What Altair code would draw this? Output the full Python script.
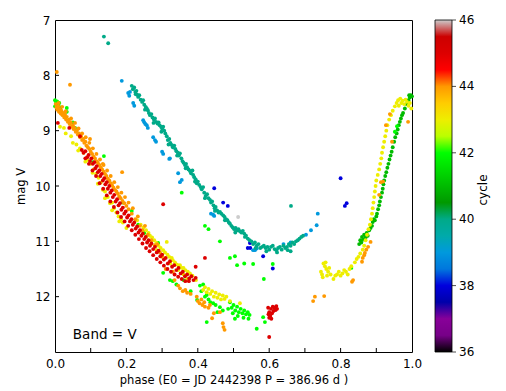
import altair as alt
import pandas as pd

# (phase, mag) points per cycle
cycle38 = [(0.446,10.04),(0.471,10.30),(0.484,10.36),(0.547,11.12),(0.540,11.12),(0.546,11.03),
           (0.583,11.27),(0.610,11.49),(0.800,9.86),(0.817,10.31),(0.812,10.36)]

cycle39 = [(0.187,8.10),(0.205,8.32),(0.208,8.37),(0.210,8.30),(0.219,8.50),(0.222,8.55),(0.247,8.81),
           (0.250,8.85),(0.253,8.88),(0.257,8.90),(0.260,8.95),(0.275,9.12),(0.280,9.17),(0.283,9.20),
           (0.300,9.38),(0.303,9.42),(0.320,9.51),(0.322,9.50),(0.345,9.77),(0.350,9.93),(0.355,9.89),
           (0.437,10.50),(0.443,10.52),(0.446,10.54),(0.555,11.16),(0.560,11.16),(0.565,11.13),
           (0.640,11.05),(0.660,11.02),(0.703,10.88),(0.717,10.80),(0.733,10.71),(0.736,10.50)]

cycle40 = [(0.137,7.30),(0.149,7.42),
           (0.215,8.19),(0.218,8.25),(0.222,8.22),(0.225,8.30),(0.228,8.28),(0.230,8.35),(0.233,8.39),
           (0.236,8.36),(0.240,8.44),(0.244,8.48),(0.247,8.45),(0.250,8.53),(0.254,8.57),(0.257,8.60),
           (0.260,8.63),(0.263,8.68),(0.266,8.72),(0.270,8.70),(0.273,8.76),(0.277,8.80),(0.280,8.78),
           (0.283,8.84),(0.287,8.87),(0.290,8.85),(0.293,8.90),(0.297,8.93),(0.300,8.96),(0.303,8.93),
           (0.306,9.00),(0.309,9.05),(0.313,9.10),(0.316,9.17),(0.320,9.15),(0.323,9.22),(0.327,9.26),
           (0.330,9.30),(0.334,9.27),(0.337,9.33),(0.340,9.37),(0.344,9.40),(0.347,9.45),(0.350,9.41),
           (0.354,9.50),(0.357,9.55),(0.360,9.58),(0.364,9.62),(0.367,9.60),(0.370,9.66),(0.374,9.70),
           (0.378,9.73),(0.381,9.77),(0.385,9.72),(0.387,9.80),(0.390,9.84),(0.394,9.88),(0.397,9.95),
           (0.400,9.92),(0.404,9.98),(0.408,10.02),(0.411,10.06),(0.415,10.02),(0.418,10.12),(0.422,10.18),
           (0.426,10.15),(0.430,10.22),(0.434,10.25),(0.437,10.30),(0.440,10.28),(0.444,10.35),(0.447,10.40),
           (0.450,10.38),(0.454,10.44),(0.458,10.48),(0.462,10.47),(0.466,10.50),(0.471,10.53),(0.475,10.56),
           (0.479,10.60),(0.483,10.62),(0.487,10.66),(0.490,10.68),(0.494,10.72),(0.498,10.75),(0.502,10.78),
           (0.506,10.76),(0.510,10.80),(0.514,10.78),(0.518,10.82),(0.522,10.84),(0.526,10.81),(0.530,10.86),
           (0.535,10.90),(0.540,10.95),(0.545,10.98),(0.550,11.00),(0.555,11.05),(0.560,11.02),(0.565,11.08),
           (0.570,11.05),(0.575,11.12),(0.580,11.10),(0.585,11.08),(0.590,11.12),(0.595,11.10),(0.600,11.15),
           (0.605,11.10),(0.610,11.08),(0.615,11.14),(0.620,11.16),(0.625,11.12),(0.630,11.10),(0.635,11.15),
           (0.640,11.08),(0.645,11.12),(0.650,11.10),(0.655,11.05),(0.660,11.08),(0.665,11.02),(0.670,11.05),
           (0.675,11.00),(0.680,10.98),(0.685,10.95),(0.690,10.92),(0.695,10.90),(0.661,10.36),(0.660,11.18),
           (0.226,8.34),(0.252,8.62),(0.276,8.86),(0.298,9.02),(0.318,9.25),(0.342,9.45),(0.366,9.68),
           (0.392,9.92),(0.420,10.22),(0.448,10.45),(0.476,10.62),(0.505,10.84),(0.532,10.92),(0.562,11.12),
           (0.592,11.18),(0.622,11.20),(0.652,11.16)]

cycle41 = [(0.852,11.05),(0.855,10.98),(0.858,11.02),(0.860,10.92),(0.863,10.97),(0.866,10.88),(0.870,10.93),
           (0.873,10.85),(0.876,10.90),(0.880,10.80),(0.884,10.76),(0.888,10.72),(0.890,10.65),(0.893,10.60),
           (0.896,10.62),(0.900,10.55),(0.902,10.50),(0.905,10.42),(0.908,10.35),(0.910,10.28),(0.913,10.20),
           (0.916,10.12),(0.918,10.05),(0.920,9.97),(0.922,9.90),(0.925,9.82),(0.928,9.75),(0.931,9.67),
           (0.934,9.60),(0.937,9.52),(0.940,9.45),(0.943,9.38),(0.946,9.30),(0.950,9.20),(0.953,9.12),
           (0.957,9.05),(0.960,8.98),(0.963,8.90),(0.966,8.84),(0.969,8.78),(0.972,8.72),(0.975,8.68),
           (0.980,8.60),(0.985,8.52),(0.990,8.45),(0.994,8.40),(0.997,8.36),(1.000,8.38),(0.992,8.36)]

cycle42 = [(0.000,8.45),(0.003,8.50),(0.006,8.47),(0.009,8.55),(0.012,8.50),(0.000,8.56),(0.015,8.58),
           (0.033,8.59),(0.033,8.66),(0.050,8.85),(0.056,8.95),(0.060,9.00),(0.106,9.57),(0.137,9.46),
           (0.190,10.30),(0.215,10.45),(0.233,10.70),(0.250,10.85),(0.289,11.03),(0.303,11.57),(0.322,11.70),
           (0.355,10.12),(0.330,11.72),(0.340,11.78),(0.360,11.70),(0.380,11.90),(0.398,12.06),(0.406,11.80),
           (0.410,11.90),(0.415,11.78),(0.420,12.00),(0.425,11.97),(0.430,12.05),(0.435,12.10),(0.443,12.12),
           (0.450,12.15),(0.462,12.19),(0.425,12.46),(0.420,10.72),(0.430,10.78),(0.462,11.00),(0.490,11.30),
           (0.504,11.27),(0.510,11.43),(0.530,11.40),(0.555,11.41),(0.585,11.68),(0.610,11.41),(0.490,12.10),
           (0.495,12.20),(0.500,12.15),(0.505,12.25),(0.510,12.18),(0.515,12.28),(0.520,12.22),(0.525,12.30),
           (0.530,12.25),(0.535,12.32),(0.540,12.28),(0.545,12.33),(0.504,12.40),(0.565,12.58),(0.588,12.46),
           (0.583,12.37),(0.830,11.48),(0.952,9.02),(0.958,8.92),
           (0.485,12.22),(0.498,12.30),(0.512,12.35),(0.528,12.38),(0.542,12.40),(0.470,12.25),(0.455,12.28)]

cycle43 = [(0.014,8.93),(0.025,8.95),(0.045,9.10),(0.060,9.25),(0.070,9.32),(0.080,9.40),(0.090,9.53),
           (0.100,9.60),(0.108,9.70),(0.115,9.78),(0.122,9.85),(0.128,9.94),(0.134,10.07),(0.140,10.10),
           (0.148,10.20),(0.154,10.31),(0.160,10.30),(0.165,10.40),(0.172,10.48),(0.178,10.55),(0.185,10.60),
           (0.190,10.66),(0.230,10.62),(0.240,10.70),(0.248,10.75),(0.255,10.80),(0.262,10.85),(0.266,10.90),
           (0.272,10.93),(0.278,10.98),(0.284,11.03),(0.290,11.08),(0.296,11.12),(0.303,11.16),(0.308,11.20),
           (0.313,11.01),(0.315,11.24),(0.320,11.28),(0.327,11.30),(0.330,11.34),(0.336,11.38),(0.342,11.42),
           (0.348,11.45),(0.355,11.48),(0.360,11.48),(0.365,11.52),(0.372,11.55),(0.378,11.58),(0.350,11.43),
           (0.360,11.60),(0.370,11.68),(0.415,11.88),(0.420,11.83),(0.425,11.92),(0.430,11.86),(0.435,11.95),
           (0.440,11.90),(0.445,12.00),(0.450,11.93),(0.455,12.02),(0.460,11.96),(0.465,12.05),(0.470,11.98),
           (0.475,12.04),(0.480,12.00),(0.490,12.08),(0.518,12.12),
           (0.030,9.05),(0.050,9.22),(0.065,9.36),(0.085,9.56),(0.105,9.76),(0.120,9.96),(0.140,10.22),
           (0.160,10.44),(0.180,10.64),(0.200,10.76),(0.255,10.92),(0.270,11.05),(0.285,11.16),(0.300,11.27),
           (0.323,11.40),(0.345,11.52),(0.385,11.62),(0.395,11.70),
           (0.745,11.55),(0.748,11.60),(0.750,11.65),(0.752,11.40),(0.756,11.45),(0.758,11.38),(0.760,11.50),
           (0.762,11.62),(0.765,11.55),(0.768,11.48),(0.772,11.60),(0.780,11.68),(0.785,11.62),(0.790,11.60),
           (0.795,11.55),(0.800,11.62),(0.805,11.58),(0.810,11.52),(0.815,11.55),(0.820,11.60),(0.825,11.50),
           (0.830,11.45),(0.840,11.38),(0.845,11.32),(0.850,11.28),(0.855,11.22),(0.862,11.15),(0.866,11.08),
           (0.870,10.98),(0.874,10.88),(0.878,10.78),(0.882,10.70),(0.885,10.60),(0.888,10.50),(0.890,10.40),
           (0.892,10.30),(0.894,10.20),(0.896,10.10),(0.898,10.00),(0.900,9.90),(0.904,9.80),(0.908,9.70),
           (0.911,9.60),(0.914,9.50),(0.916,9.40),(0.919,9.30),(0.922,9.20),(0.925,9.10),(0.928,9.00),
           (0.931,8.90),(0.936,8.80),(0.941,8.72),(0.946,8.64),(0.952,8.56),(0.957,8.50),(0.961,8.45),
           (0.963,8.55),(0.967,8.42),(0.970,8.50),(0.974,8.46),(0.978,8.52),(0.982,8.44),(0.986,8.48),
           (0.990,8.55),(0.994,8.50),(0.998,8.60)]

cycle44 = [(0.005,7.94),(0.042,8.17),
           (0.002,8.52),(0.004,8.58),(0.006,8.62),(0.009,8.56),(0.011,8.66),(0.013,8.61),(0.016,8.69),
           (0.018,8.64),(0.021,8.72),(0.023,8.68),(0.026,8.76),(0.028,8.71),(0.031,8.80),(0.033,8.75),
           (0.036,8.84),(0.039,8.80),(0.041,8.88),(0.044,8.85),(0.047,8.93),(0.050,8.90),(0.052,8.97),
           (0.055,8.95),(0.058,9.02),(0.061,9.00),(0.064,9.07),(0.067,9.05),(0.070,9.12),(0.073,9.10),
           (0.076,9.17),(0.079,9.15),(0.082,9.22),(0.085,9.20),(0.088,9.27),(0.092,9.30),(0.096,9.33),
           (0.098,9.15),(0.100,9.38),(0.104,9.42),(0.108,9.47),(0.112,9.50),(0.116,9.55),(0.120,9.58),
           (0.124,9.62),(0.128,9.66),(0.132,9.70),(0.134,9.60),(0.136,9.74),(0.140,9.78),(0.144,9.82),
           (0.148,9.87),(0.152,9.90),(0.156,9.95),(0.160,9.99),(0.164,10.03),(0.168,10.07),(0.172,10.10),
           (0.176,10.14),(0.180,10.19),(0.184,10.22),(0.188,9.75),(0.189,10.27),(0.194,10.31),(0.200,10.36),
           (0.206,10.42),(0.215,10.50),(0.225,10.60),(0.238,10.72),(0.245,10.80),(0.260,10.88),(0.270,10.98),
           (0.280,11.07),(0.294,11.20),(0.300,11.28),(0.310,11.50),(0.330,11.55),(0.335,11.70),(0.345,11.80),
           (0.350,11.85),(0.358,11.90),(0.365,11.88),(0.370,11.93),(0.380,11.95),(0.397,12.00),(0.400,12.08),
           (0.405,12.12),(0.410,12.05),(0.413,12.15),(0.418,12.10),(0.420,12.18),(0.430,12.20),(0.434,12.15),
           (0.440,12.39),(0.445,12.30),(0.462,12.28),(0.470,12.48),(0.472,12.55),(0.475,12.60),
           (0.010,8.50),(0.020,8.57),(0.030,8.65),(0.045,8.78),(0.056,8.86),(0.066,8.96),(0.076,9.05),
           (0.086,9.12),(0.096,9.22),(0.106,9.32),(0.116,9.42),(0.126,9.52),(0.136,9.62),(0.146,9.72),
           (0.156,9.82),(0.166,9.93),(0.176,10.02),(0.186,10.12),(0.196,10.20),(0.206,10.30),(0.218,10.40),
           (0.232,10.55),(0.252,10.72),(0.287,11.05),
           (0.723,12.08),(0.728,12.00),(0.754,11.99),(0.832,11.73),(0.835,11.70),(0.860,11.37),(0.862,11.30),
           (0.866,11.25),(0.868,11.21),(0.872,11.15),(0.877,11.10),(0.884,11.01),(0.908,10.16),(0.913,9.93),
           (0.919,9.92),(0.927,8.90),(0.938,8.70),(0.944,9.20),(0.989,8.84)]

cycle45 = [(0.008,8.86),(0.040,8.95),(0.070,9.10),
           (0.075,9.35),(0.080,9.40),(0.085,9.37),(0.090,9.48),(0.094,9.44),(0.098,9.55),(0.102,9.50),
           (0.106,9.60),(0.110,9.57),(0.113,9.68),(0.117,9.64),(0.120,9.75),(0.124,9.72),(0.127,9.82),
           (0.131,9.78),(0.134,9.90),(0.138,9.86),(0.141,9.97),(0.145,9.93),(0.148,10.05),(0.152,10.00),
           (0.155,10.12),(0.159,10.08),(0.162,10.20),(0.166,10.16),(0.170,10.28),(0.174,10.24),(0.178,10.35),
           (0.182,10.31),(0.186,10.43),(0.190,10.39),(0.194,10.50),(0.198,10.46),(0.202,10.57),(0.206,10.53),
           (0.210,10.64),(0.214,10.60),(0.218,10.70),(0.222,10.66),(0.226,10.77),(0.230,10.73),(0.234,10.84),
           (0.238,10.80),(0.242,10.90),(0.246,10.86),(0.250,10.96),(0.254,10.92),(0.258,11.02),(0.262,10.98),
           (0.266,11.08),(0.270,11.04),(0.275,11.14),(0.280,11.10),(0.285,11.20),(0.290,11.17),(0.295,11.27),
           (0.300,11.24),(0.305,11.33),(0.310,11.30),(0.316,11.40),(0.322,11.36),(0.328,11.46),(0.334,11.43),
           (0.340,11.52),(0.346,11.48),(0.352,11.58),(0.358,11.55),(0.364,11.63),(0.370,11.60),(0.376,11.67),
           (0.382,11.63),(0.388,11.70),(0.394,11.66),
           (0.085,9.50),(0.095,9.60),(0.105,9.72),(0.115,9.82),(0.125,9.95),(0.135,10.05),(0.145,10.17),
           (0.155,10.28),(0.165,10.38),(0.175,10.48),(0.185,10.56),(0.195,10.64),(0.205,10.72),(0.215,10.80),
           (0.225,10.88),(0.235,10.96),(0.245,11.04),(0.255,11.12),(0.265,11.18),(0.275,11.25),(0.285,11.32),
           (0.295,11.38),(0.305,11.44),(0.315,11.50),(0.325,11.55),(0.335,11.60),(0.345,11.64),(0.355,11.68),
           (0.365,11.72),(0.375,11.72),
           (0.303,10.33),(0.420,11.30),(0.394,11.46),(0.600,12.73),
           (0.597,12.20),(0.600,12.28),(0.603,12.35),(0.605,12.22),(0.608,12.30),(0.610,12.18),(0.612,12.26),
           (0.615,12.20),(0.618,12.24),(0.620,12.17),(0.622,12.22),(0.600,12.38),(0.606,12.40),(0.598,12.32)]

cycle46 = [(0.513,10.56)]

groups = [(38, cycle38), (39, cycle39), (40, cycle40), (41, cycle41), (42, cycle42),
          (43, cycle43), (44, cycle44), (45, cycle45), (46, cycle46)]

x_ticks = [0.0, 0.1, 0.2, 0.3, 0.4, 0.5, 0.6, 0.7, 0.8, 0.9, 1.0]
y_ticks = [7, 8, 9, 10, 11, 12]
cbar_ticks = [36, 38, 40, 42, 44, 46]

# nipy_spectral colormap stops
nipy = ["#000000", "#770088", "#880099", "#0000aa", "#0000dd", "#0077dd", "#0099dd",
        "#00aaaa", "#00aa88", "#009900", "#00bb00", "#00dd00", "#00ff00", "#bbff00",
        "#eeee00", "#ffcc00", "#ff9900", "#ff0000", "#dd0000", "#cc0000", "#cccccc"]

rows = []
for cyc, pts in groups:
    for p, m in pts:
        rows.append({"phase": p, "mag": m, "cycle": cyc})
df = pd.DataFrame(rows)

W, H = 357, 332
CB_X, CB_W = 380, 17
FONT = "DejaVu Sans"

xscale = alt.Scale(domain=[0, 1], nice=False, zero=False)
yscale = alt.Scale(domain=[7, 13], reverse=True, nice=False, zero=False)

points = alt.Chart(df).mark_circle(size=15, opacity=1).encode(
    x=alt.X("phase:Q", scale=xscale,
            axis=alt.Axis(values=x_ticks, format=".1f", title="phase (E0 = JD 2442398 P = 386.96 d )",
                          grid=False, ticks=False, domain=False, labelFlush=False, labelOverlap=False,
                          labelPadding=6, labelFontSize=12, labelFont=FONT, labelColor="black",
                          titleFont=FONT, titleFontSize=11.5, titleFontWeight="normal",
                          titleColor="black", titlePadding=5)),
    y=alt.Y("mag:Q", scale=yscale,
            axis=alt.Axis(values=y_ticks, format=".0f", title="mag V", grid=False, ticks=False,
                          domain=False, labelFlush=False, labelOverlap=False, labelPadding=5,
                          labelFontSize=12, labelFont=FONT, labelColor="black", titleFont=FONT,
                          titleFontSize=11.5, titleFontWeight="normal", titleColor="black",
                          titlePadding=8)),
    color=alt.Color("cycle:Q", scale=alt.Scale(domain=[36, 46], range=nipy, interpolate="rgb"),
                    legend=None),
)

# inward axis ticks
xt = pd.DataFrame({"phase": x_ticks[1:-1]})
yt = pd.DataFrame({"mag": y_ticks[1:]})
xtick_layer = alt.Chart(xt).mark_rule(color="black", strokeWidth=1).encode(
    x=alt.X("phase:Q", scale=xscale), y=alt.value(H), y2=alt.value(H - 4))
ytick_layer = alt.Chart(yt).mark_rule(color="black", strokeWidth=1).encode(
    y=alt.Y("mag:Q", scale=yscale), x=alt.value(0), x2=alt.value(4))

# colorbar: gradient rect, ticks and labels
grad = alt.LinearGradient(gradient="linear", x1=0, x2=0, y1=1, y2=0,
                          stops=[alt.GradientStop(color=c, offset=i / 20) for i, c in enumerate(nipy)])
cbar = alt.Chart(pd.DataFrame({"k": [0]})).mark_rect(fill=grad, stroke="black", strokeWidth=0.8).encode(
    x=alt.value(CB_X), x2=alt.value(CB_X + CB_W), y=alt.value(0), y2=alt.value(H))

cb = pd.DataFrame({"c": cbar_ticks, "lab": [str(c) for c in cbar_ticks],
                   "py": [H * (46 - c) / 10 for c in cbar_ticks]})
cb_text = alt.Chart(cb).mark_text(align="left", baseline="middle", fontSize=12, font=FONT,
                                  color="black").encode(
    x=alt.value(CB_X + CB_W + 7), y=alt.Y("py:Q", scale=None), text="lab:N")
cb_ticks = alt.Chart(cb).mark_tick(orient="horizontal", color="black", size=4, thickness=1).encode(
    x=alt.value(CB_X + CB_W + 2), y=alt.Y("py:Q", scale=None))

band = alt.Chart(pd.DataFrame({"label": ["Band = V"]})).mark_text(
    align="left", baseline="alphabetic", fontSize=13.5, font=FONT, color="black").encode(
    x=alt.datum(0.05), y=alt.datum(12.77), text="label:N")

cyc_title = alt.Chart(pd.DataFrame({"label": ["cycle"]})).mark_text(
    angle=270, align="center", baseline="middle", fontSize=12, font=FONT, color="black").encode(
    x=alt.value(428), y=alt.value(H / 2 + 4), text="label:N")

chart = alt.layer(points, xtick_layer, ytick_layer, band, cbar, cb_ticks, cb_text, cyc_title).properties(
    width=W, height=H,
    autosize=alt.AutoSizeParams(type="none"),
    padding={"left": 47, "top": 12, "right": 86, "bottom": 38},
).configure_view(stroke="black", strokeWidth=1)

chart.save("out.html", embed_options={"renderer": "svg", "actions": False})
